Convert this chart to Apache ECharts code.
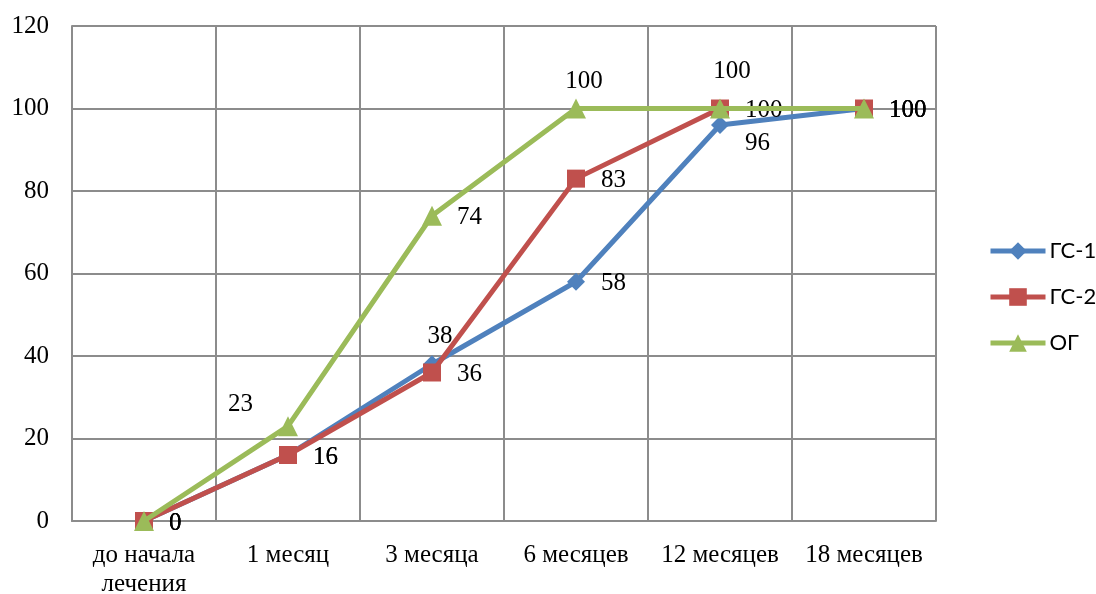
<!DOCTYPE html>
<html>
<head>
<meta charset="utf-8">
<script src="https://cdn.jsdelivr.net/npm/echarts@6/dist/echarts.min.js"></script>
<style>
  html, body { margin: 0; padding: 0; background: #fff; }
  #chart { width: 1096px; height: 594px; }
</style>
</head>
<body>
<div id="chart"></div>
<script>
// Periods of observation
const categories = ['до начала\nлечения', '1 месяц', '3 месяца', '6 месяцев', '12 месяцев', '18 месяцев'];

// Values per group, %
const gs1 = [0, 16, 38, 58, 96, 100];
const gs2 = [0, 16, 36, 83, 100, 100];
const og  = [0, 23, 74, 100, 100, 100];

const seriesNames = ['ГС-1', 'ГС-2', 'ОГ'];
const yTicks = [0, 20, 40, 60, 80, 100, 120];

// Where each value label sits relative to its point
const gs1LabelPos = ['right', 'right', 'top', 'right', 'bottomRight', 'right'];
const gs2LabelPos = ['right', 'right', 'right', 'right', 'right', 'right'];
const ogLabelPos  = ['right', 'topLeft', 'right', 'top', 'topHigh', 'right'];

const serif = '"Liberation Serif", "Times New Roman", serif';
const FONT = 25;

function labelFor(pos, half) {
  const base = { show: true, color: '#000', fontFamily: serif, fontSize: FONT };
  const rightDist = 25 - half;
  switch (pos) {
    case 'top': return Object.assign(base, { position: 'top', distance: 15 - half, offset: [8, 0] });
    case 'topHigh': return Object.assign(base, { position: 'top', distance: 25 - half, offset: [12, 0] });
    case 'topLeft': return Object.assign(base, { position: 'left', distance: 35 - half, offset: [0, -22] });
    case 'bottomRight': return Object.assign(base, { position: 'right', distance: rightDist, offset: [0, 18] });
    default: return Object.assign(base, { position: 'right', distance: rightDist, offset: [0, 2] });
  }
}

const colors = ['#4F81BD', '#C0504D', '#9BBB59'];
const symbols = ['diamond', 'rect', 'triangle'];
const symbolSizes = [18, 18, 20];
const values = [gs1, gs2, og];
const positions = [gs1LabelPos, gs2LabelPos, ogLabelPos];

function buildData(k) {
  return values[k].map((v, i) => ({ value: v, label: labelFor(positions[k][i], symbolSizes[k] / 2) }));
}

const chart = echarts.init(document.getElementById('chart'), null, { renderer: 'canvas' });
chart.setOption({
  animation: false,
  backgroundColor: '#fff',
  color: colors,
  grid: { left: 72, right: 160, top: 26, bottom: 73, containLabel: false, outerBoundsMode: 'none' },
  legend: {
    orient: 'vertical',
    left: 988,
    top: 240,
    padding: 0,
    itemWidth: 55,
    itemHeight: 22,
    itemGap: 24,
    lineStyle: { width: 5 },
    textStyle: { fontFamily: 'Lato, "Liberation Sans", sans-serif', fontSize: 22, color: '#000', padding: [0, 0, 0, -1] },
    data: seriesNames
  },
  xAxis: {
    type: 'category',
    data: categories,
    boundaryGap: true,
    axisLine: { show: true, lineStyle: { color: '#8c8c8c', width: 2 } },
    axisTick: { show: false },
    splitLine: { show: true, lineStyle: { color: '#8c8c8c', width: 2 } },
    axisLabel: {
      color: '#000', fontFamily: serif, fontSize: FONT, margin: 20, lineHeight: 29,
      interval: 0
    }
  },
  yAxis: {
    type: 'value',
    min: yTicks[0],
    max: yTicks[yTicks.length - 1],
    interval: yTicks[1] - yTicks[0],
    axisLine: { show: true, lineStyle: { color: '#8c8c8c', width: 2 } },
    axisTick: { show: false },
    splitLine: { show: true, lineStyle: { color: '#8c8c8c', width: 2 } },
    axisLabel: { color: '#000', fontFamily: serif, fontSize: FONT, margin: 23 }
  },
  series: seriesNames.map((name, k) => ({
    name: name,
    type: 'line',
    data: buildData(k),
    symbol: symbols[k],
    symbolSize: symbolSizes[k],
    showAllSymbol: true,
    lineStyle: { width: 5, color: colors[k] },
    itemStyle: { color: colors[k] },
    emphasis: { disabled: true },
    z: 2 + k
  }))
});
</script>
</body>
</html>
